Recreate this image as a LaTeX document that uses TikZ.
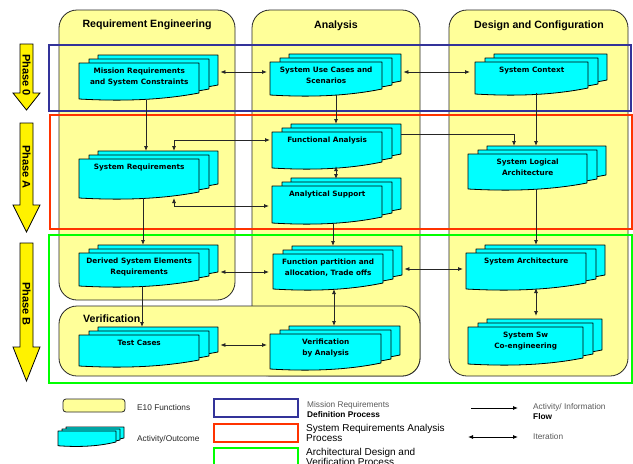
\documentclass[tikz,border=0pt]{standalone}
\usepackage{fontspec}
\setmainfont{Liberation Sans}
\newfontfamily\boxfont{DejaVu Sans}
\usetikzlibrary{arrows.meta}
\usetikzlibrary{calc}

\definecolor{panelyellow}{HTML}{FFFF99}
\definecolor{actcyan}{HTML}{00FFFF}
\definecolor{phaseblue}{HTML}{333399}
\definecolor{phasered}{HTML}{FF3300}
\definecolor{phasegreen}{HTML}{00FF00}

\tikzset{
  panel/.style={fill=panelyellow, draw=black!85, line width=0.8pt, rounded corners=18pt},
  phasebox/.style={draw=#1, line width=2.6pt},
  phasearrow/.style={fill=yellow, draw=black, line width=0.8pt},
  phasetext/.style={rotate=-90, inner sep=0pt, font=\fontsize{11}{13}\selectfont\bfseries},
  actshape/.style={fill=actcyan, draw=black, line width=0.8pt, line join=round},
  actbox/.style={rectangle, inner sep=0pt, anchor=north west},
  acttext/.style={anchor=north, align=center, inner sep=1pt, font=\boxfont\fontsize{7.3}{11}\selectfont\bfseries},
  coltitle/.style={inner sep=0pt, font=\fontsize{10.6}{12}\selectfont\bfseries},
  flow/.style={draw=black!85, line width=0.8pt, -{Latex[length=5pt,width=4pt]}},
  iter/.style={draw=black!85, line width=0.8pt, {Latex[length=5pt,width=4pt]}-{Latex[length=5pt,width=4pt]}},
  legtext/.style={anchor=west, align=left, inner sep=0pt, text=black!85, font=\fontsize{8.3}{10}\selectfont},
}

% one sheet of an activity: x, y, width, height, wave
\newcommand\docshape[5]{%
  \draw[actshape] (#1,#2) -- ({#1+#3},#2) -- ({#1+#3},{#2+#4})
    .. controls ({#1+0.65*#3},{#2+#4+#5}) and ({#1+0.3*#3},{#2+#4+#5}) .. (#1,{#2+#4+0.75*#5}) -- cycle;
}
% stacked activity: name, x, y, width, height, text
\newcommand\activity[6]{%
  \foreach \dx/\dy in {19/8,10/4,0/0}{\docshape{#2+\dx}{#3-\dy}{#4}{#5}{8}}
  \node[actbox, minimum width=#4, minimum height=#5] (#1) at (#2,#3) {};
  \node[acttext] (#1-t) at ([yshift=-4pt]#1.north) {#6};
}

\begin{document}
\begin{tikzpicture}[x=1pt, y=-1pt]
  \useasboundingbox (0,0) rectangle (633,464);
  \clip (0,0) rectangle (633,464);

  % E10 functions
  \draw[panel] (59,10) rectangle (235,300);
  \draw[panel] (252,10) rectangle (420,376);
  \draw[panel] (449,10) rectangle (628,376);
  \draw[panel] (59,306) rectangle (420,376);
  \node[coltitle] (treq) at (147,25) {Requirement Engineering};
  \node[coltitle] (tana) at (336,26) {Analysis};
  \node[coltitle] (tdes) at (539,26) {Design and Configuration};
  \node[coltitle, anchor=west] (tver) at (83,319) {Verification};

  % phases
  \draw[phasebox=phaseblue] (49,45) rectangle (631,111);
  \draw[phasebox=phasered] (50,115) rectangle (632,229);
  \draw[phasebox=phasegreen] (49,235) rectangle (632,383);
  \foreach \top/\hb/\tip/\mid/\lab/\nm in {44/93/110/75/Phase 0/p0, 123/205/232/167/Phase A/pA, 243/347/381/304/Phase B/pB}{
    \draw[phasearrow] (20,\top) -- (33,\top) -- (33,\hb) -- (40,\hb) -- (26.5,\tip) -- (13,\hb) -- (20,\hb) -- cycle;
    \node[phasetext] (\nm) at (26.5,\mid) {\lab};
  }

  % activities
  \activity{mrsc}{79}{63}{120}{30}{Mission Requirements\\and System Constraints}
  \activity{sucs}{270}{62}{112}{27}{System Use Cases and\\Scenarios}
  \activity{sc}{475}{62}{113}{26}{System Context}
  \activity{sr}{79}{159}{120}{33}{System Requirements}
  \activity{fa}{272}{132}{110}{30}{Functional Analysis}
  \activity{anas}{272}{186}{110}{31}{Analytical Support}
  \activity{sla}{468}{154}{119}{29}{System Logical\\Architecture}
  \activity{dser}{79}{253}{120}{27}{Derived System Elements\\Requirements}
  \activity{fpa}{273}{254}{110}{29}{Function partition and\\allocation, Trade offs}
  \activity{sa}{466}{253}{120}{30}{System Architecture}
  \activity{tc}{79}{335}{120}{25}{Test Cases}
  \activity{va}{270}{334}{111}{29}{Verification\\by Analysis}
  \activity{ssc}{468}{327}{115}{31}{System Sw\\Co-engineering}

  % flows
  \draw[iter] ($(mrsc.north east)+(21,9)$) -- ($(sucs.north west)+(-3,10)$);
  \draw[iter] ($(sucs.north east)+(21,10)$) -- ($(sc.north west)+(-5,10)$);
  \draw[flow] ($(mrsc.north west)+(67,37)$) -- ($(sr.north west)+(67,-8)$);
  \draw[iter] ($(fa.north west)+(-2,8)$) -| ($(sr.north west)+(95,-8)$);
  \draw[iter] ($(sr.north west)+(95,39)$) |- ($(anas.north west)+(-3,20)$);
  \draw[flow] ($(sucs.north west)+(66,33)$) -- ($(fa.north west)+(64,-8)$);
  \draw[iter] ($(fa.north west)+(64,34)$) -- ($(anas.north west)+(64,-7)$);
  \draw[flow] ($(fa.north east)+(19,2)$) -| ($(sla.north west)+(46,-8)$);
  \draw[flow] ($(sc.north west)+(61,31)$) -- ($(sla.north west)+(68,-8)$);
  \draw[flow] ($(sr.north west)+(64,39)$) -- ($(dser.north west)+(64,-8)$);
  \draw[iter] ($(dser.north east)+(21,19)$) -- ($(fpa.north west)+(-4,18)$);
  \draw[flow] ($(anas.north west)+(61,37)$) -- ($(fpa.north west)+(60,-8)$);
  \draw[flow] ($(sla.north west)+(68,35)$) -- ($(sa.north west)+(70,-8)$);
  \draw[iter] ($(fpa.north east)+(21,15)$) -- ($(sa.north west)+(-3,16)$);
  \draw[iter] ($(sa.north west)+(70,35)$) -- ($(ssc.north west)+(68,-11)$);
  \draw[flow] ($(dser.north west)+(63,33)$) -- ($(tc.north west)+(63,-8)$);
  \draw[iter] ($(fpa.north west)+(61,35)$) -- ($(va.north west)+(64,-8)$);
  \draw[iter] ($(tc.north east)+(21,10)$) -- ($(va.north west)+(-3,11)$);

  % legend
  \draw[panel, rounded corners=3pt] (63,399) rectangle (125,412);
  \foreach \dx/\dy in {8/4,4/2,0/0}{\docshape{58+\dx}{431-\dy}{58}{11}{5}}
  \node[legtext] (lgfun) at (137,408) {E10 Functions};
  \node[legtext] (lgact) at (137,439) {Activity/Outcome};
  \draw[phasebox=phaseblue] (214,399) rectangle (298,417);
  \draw[phasebox=phasered] (214,424) rectangle (298,442);
  \draw[phasebox=phasegreen] (214,448) rectangle (298,466);
  \node[legtext] (lgmis) at (307,410) {\textcolor{black!65}{Mission Requirements}\\\textcolor{black}{\bfseries Definition Process}};
  \node[legtext, text=black, font=\fontsize{10}{10}\selectfont] (lgsys) at (306,433) {System Requirements Analysis\\Process};
  \node[legtext, text=black, font=\fontsize{10}{10}\selectfont] (lgarc) at (306,457) {Architectural Design and\\Verification Process};
  \coordinate (lf1) at (471,408);
  \coordinate (lf2) at (518,408);
  \coordinate (li1) at (468,437);
  \coordinate (li2) at (518,437);
  \draw[flow, draw=black] (lf1) -- (lf2);
  \draw[iter, draw=black] (li1) -- (li2);
  \node[legtext] (lgflow) at (533,412) {\textcolor{black!65}{Activity/ Information}\\\textcolor{black}{\bfseries Flow}};
  \node[legtext, text=black!65] (lgiter) at (533,437) {Iteration};
\end{tikzpicture}
\end{document}
